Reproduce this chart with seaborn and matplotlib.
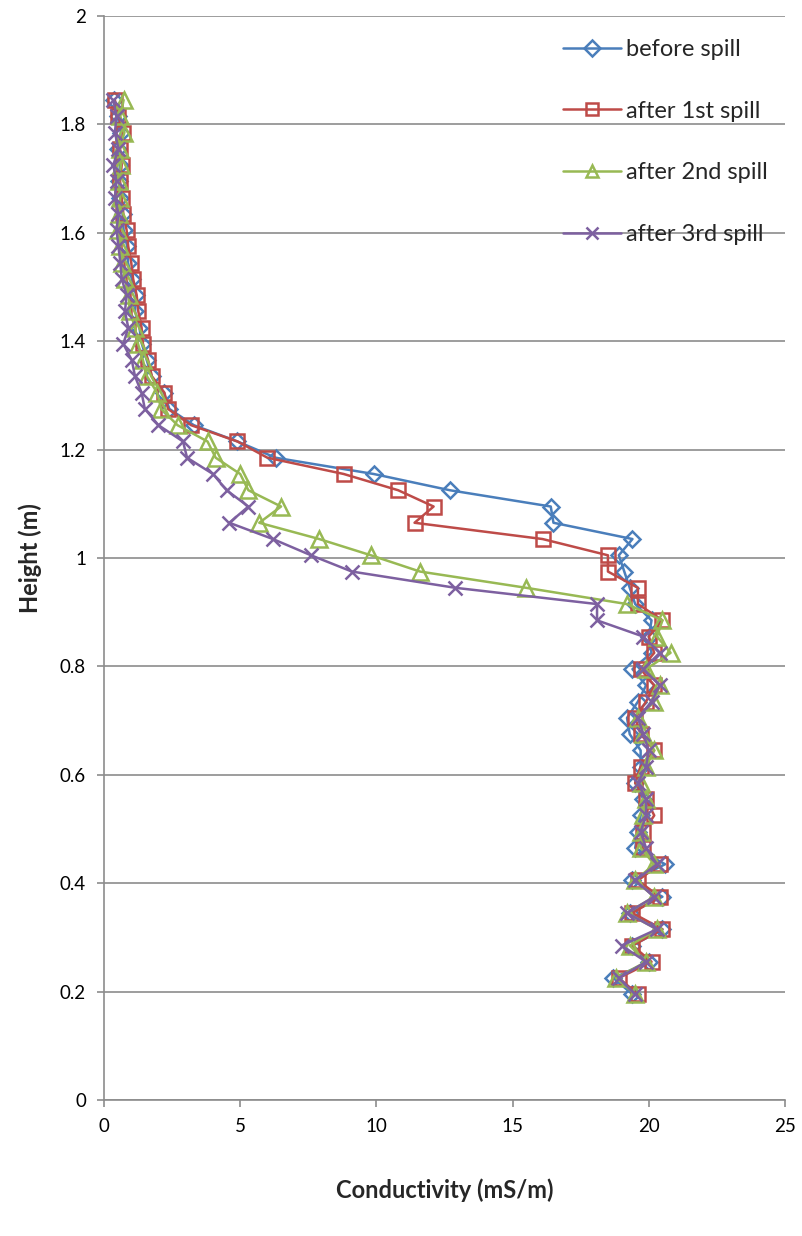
import matplotlib
matplotlib.use("Agg")
import matplotlib.pyplot as plt
import seaborn as sns
import numpy as np

# Measurement heights (m), bottom to top
height = [round(0.195 + 0.03 * i, 3) for i in range(56)]

before_spill = [
    19.4, 18.7, 20.0, 19.4, 20.5, 19.3, 20.5, 19.4, 20.6, 19.5,
    19.6, 19.7, 19.8, 19.5, 19.7, 19.7, 19.3, 19.2, 19.6, 19.9,
    19.4, 20.1, 20.0, 20.1, 19.5, 19.3, 19.1, 18.9, 19.4, 16.5,
    16.4, 12.7, 9.9, 6.3, 4.9, 3.3, 2.4, 2.2, 1.75, 1.57,
    1.39, 1.3, 1.14, 1.18, 1.02, 0.88, 0.85, 0.72, 0.68, 0.6,
    0.55, 0.58, 0.52, 0.62, 0.5, 0.38,
]
after_1st = [
    19.6, 18.9, 20.1, 19.4, 20.5, 19.4, 20.4, 19.6, 20.4, 19.8,
    19.8, 20.2, 19.9, 19.5, 19.7, 20.2, 19.7, 19.5, 19.9, 20.2,
    19.7, 20.2, 20.0, 20.5, 19.6, 19.6, 18.5, 18.5, 16.1, 11.4,
    12.1, 10.8, 8.8, 6.0, 4.9, 3.2, 2.35, 2.22, 1.76, 1.62,
    1.43, 1.38, 1.26, 1.2, 1.07, 1.0, 0.89, 0.83, 0.71, 0.65,
    0.59, 0.65, 0.59, 0.71, 0.53, 0.40,
]
after_2nd = [
    19.5, 18.8, 19.9, 19.3, 20.3, 19.2, 20.2, 19.5, 20.2, 19.7,
    19.7, 19.8, 19.9, 19.7, 19.9, 20.2, 19.8, 19.6, 20.2, 20.4,
    19.9, 20.8, 20.3, 20.5, 19.2, 15.5, 11.6, 9.8, 7.9, 5.7,
    6.5, 5.3, 5.0, 4.1, 3.8, 2.7, 2.1, 1.95, 1.58, 1.43,
    1.25, 1.14, 0.95, 0.9, 0.77, 0.66, 0.6, 0.5, 0.55, 0.6,
    0.55, 0.62, 0.57, 0.75, 0.6, 0.72,
]
after_3rd = [
    19.5, 18.9, 19.9, 19.0, 20.3, 19.2, 20.2, 19.5, 20.3, 19.9,
    19.7, 19.9, 19.9, 19.6, 19.9, 20.0, 19.8, 19.6, 20.1, 20.4,
    19.8, 20.4, 19.8, 18.1, 18.1, 12.9, 9.1, 7.6, 6.2, 4.6,
    5.3, 4.5, 4.0, 3.05, 2.9, 2.0, 1.5, 1.38, 1.14, 1.02,
    0.71, 0.89, 0.77, 0.83, 0.65, 0.6, 0.53, 0.46, 0.53, 0.40,
    0.46, 0.34, 0.53, 0.40, 0.46, 0.34,
]

series_labels = ["before spill", "after 1st spill", "after 2nd spill", "after 3rd spill"]
series_values = [before_spill, after_1st, after_2nd, after_3rd]
series_colors = ["#4A7EBB", "#BE4B48", "#98B954", "#7D60A0"]
series_markers = ["D", "s", "^", "x"]
series_msize = [8.5, 10.5, 11, 9.5]

x_ticks = [0, 5, 10, 15, 20, 25]
y_ticks = [0, 0.2, 0.4, 0.6, 0.8, 1, 1.2, 1.4, 1.6, 1.8, 2]
y_ticklabels = ["0", "0.2", "0.4", "0.6", "0.8", "1", "1.2", "1.4", "1.6", "1.8", "2"]

sns.set_theme(style="white")
plt.rcParams["font.family"] = ["Lato", "DejaVu Sans"]

fig = plt.figure(figsize=(8.03, 12.36), dpi=100)
ax = fig.add_axes([104 / 803, 1 - 1100 / 1236, (785 - 104) / 803, (1100 - 16) / 1236])

for vals, lab, col, mk, ms in zip(series_values, series_labels, series_colors,
                                  series_markers, series_msize):
    sns.lineplot(x=vals, y=height, sort=False, estimator=None, orient="y",
                 ax=ax, color=col, linewidth=1.8, marker=mk, markersize=ms,
                 markerfacecolor="none", markeredgecolor=col,
                 markeredgewidth=1.8, label=lab)

ax.set_xlim(0, 25)
ax.set_ylim(0, 2)
ax.set_xticks(x_ticks)
ax.set_xticklabels([str(t) for t in x_ticks])
ax.set_yticks(y_ticks)
ax.set_yticklabels(y_ticklabels)
ax.yaxis.grid(True, color="#8C8C8C", linewidth=1.2)
ax.xaxis.grid(False)
ax.set_axisbelow(True)

for side in ["top", "right"]:
    ax.spines[side].set_visible(False)
for side in ["left", "bottom"]:
    ax.spines[side].set_color("#8C8C8C")
    ax.spines[side].set_linewidth(1.2)

ax.tick_params(axis="both", which="both", direction="out", length=5, width=1.2,
               color="#8C8C8C", labelsize=13.5, labelcolor="black", pad=8,
               left=True, bottom=True)

ax.set_xlabel("Conductivity (mS/m)", fontsize=17, fontweight="bold", labelpad=31)
ax.set_ylabel("Height (m)", fontsize=17, fontweight="bold", labelpad=13)

leg = ax.legend(loc="upper left", bbox_to_anchor=(563 / 803, 1 - 39 / 1236),
                bbox_transform=fig.transFigure, frameon=False,
                fontsize=17, labelspacing=1.72, handlelength=2.45,
                handletextpad=0.22, borderaxespad=0, borderpad=0)
for h in leg.legend_handles:
    h.set_markersize(8)

fig.savefig("out.png", dpi=100)
